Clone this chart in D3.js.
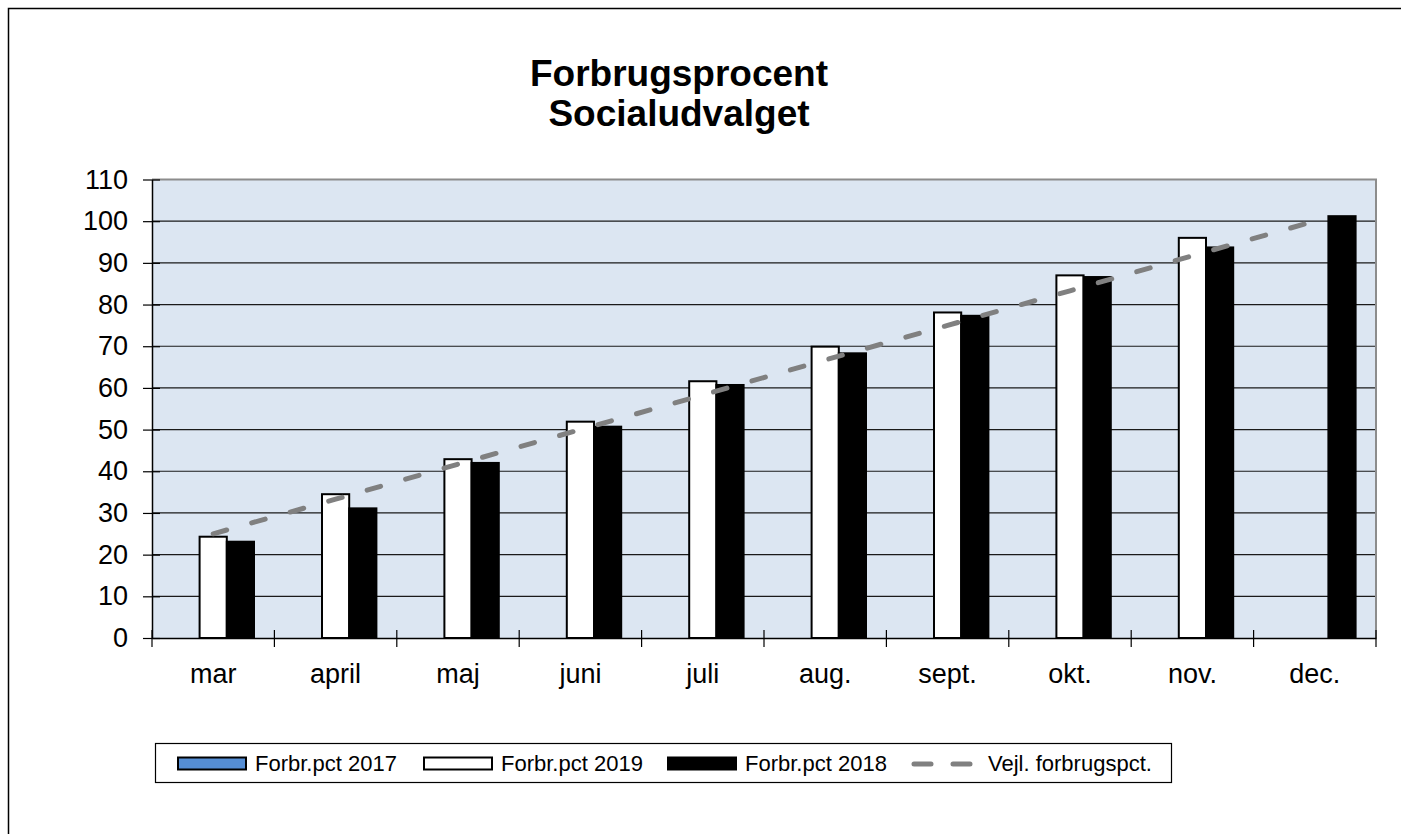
<!DOCTYPE html>
<head>
<meta charset="utf-8">
<title>Forbrugsprocent Socialudvalget</title>
<script src="https://d3js.org/d3.v7.min.js"></script>
<style>
  body { margin: 0; background: #fff; }
  text { font-family: "Liberation Sans", Arial, sans-serif; fill: #000; }
</style>
</head>
<body>
<div id="my_dataviz"></div>
<script>

// data
const months = ["mar", "april", "maj", "juni", "juli", "aug.", "sept.", "okt.", "nov.", "dec."];
const pct2017 = [null, null, null, null, null, null, null, null, null, null];
const pct2019 = [24.3, 34.5, 42.9, 51.9, 61.6, 69.9, 78.1, 87.0, 96.0, null];
const pct2018 = [23.1, 31.1, 42.0, 50.7, 60.7, 68.3, 77.3, 86.6, 93.7, 101.2];
const vejl = [25, 33.3, 41.7, 50, 58.3, 66.7, 75, 83.3, 91.7, 100];
const yTicks = [0, 10, 20, 30, 40, 50, 60, 70, 80, 90, 100, 110];

const seriesNames = ["Forbr.pct 2017", "Forbr.pct 2019", "Forbr.pct 2018"];
const seriesValues = [pct2017, pct2019, pct2018];
const seriesFill = ["#558ed5", "#ffffff", "#000000"];

var W = 1401, H = 834;
var plot = {left: 152, right: 1376, top: 179.5, bottom: 638};

var svg = d3.select("#my_dataviz")
  .append("svg")
    .attr("width", W)
    .attr("height", H);

// outer chart border
svg.append("rect")
  .attr("x", 8.5).attr("y", 8.5)
  .attr("width", W).attr("height", H)
  .attr("fill", "#fff")
  .attr("stroke", "#000")
  .attr("stroke-width", 1.5);

// title
svg.append("text")
  .attr("x", 679).attr("y", 86)
  .attr("text-anchor", "middle")
  .style("font-size", "37px").style("font-weight", "bold")
  .text("Forbrugsprocent");
svg.append("text")
  .attr("x", 679).attr("y", 126)
  .attr("text-anchor", "middle")
  .style("font-size", "37px").style("font-weight", "bold")
  .text("Socialudvalget");

// scales
var x0 = d3.scaleBand()
  .domain(months)
  .range([plot.left, plot.right]);

var x1 = d3.scaleBand()
  .domain(seriesNames)
  .range([x0.bandwidth() / 6, x0.bandwidth() * 5 / 6]);

var y = d3.scaleLinear()
  .domain([0, 110])
  .range([plot.bottom, plot.top]);

// plot area
svg.append("rect")
  .attr("x", plot.left).attr("y", plot.top)
  .attr("width", plot.right - plot.left)
  .attr("height", plot.bottom - plot.top)
  .attr("fill", "#dce6f2");

// gridlines
svg.append("g")
  .selectAll("line")
  .data(yTicks.filter(function(d) { return d > 0 && d < 110; }))
  .enter()
  .append("line")
    .attr("x1", plot.left).attr("x2", plot.right)
    .attr("y1", function(d) { return y(d); })
    .attr("y2", function(d) { return y(d); })
    .attr("stroke", "#1a1a1a")
    .attr("stroke-width", 1.2);

// top + right border (grey)
svg.append("path")
  .attr("d", "M" + plot.left + "," + plot.top + "H" + plot.right + "V" + plot.bottom)
  .attr("fill", "none")
  .attr("stroke", "#8c8c8c")
  .attr("stroke-width", 2);

// bars
seriesNames.forEach(function(name, si) {
  svg.append("g")
    .selectAll("rect")
    .data(seriesValues[si].map(function(v, i) { return {m: months[i], v: v}; })
      .filter(function(d) { return d.v != null; }))
    .enter()
    .append("rect")
      .attr("x", function(d) { return x0(d.m) + x1(name); })
      .attr("width", x1.bandwidth())
      .attr("y", function(d) { return y(d.v); })
      .attr("height", function(d) { return y(0) - y(d.v); })
      .attr("fill", seriesFill[si])
      .attr("stroke", "#000")
      .attr("stroke-width", 2);
});

// guide line
var line = d3.line()
  .x(function(d, i) { return x0(months[i]) + x0.bandwidth() / 2; })
  .y(function(d) { return y(d); });

svg.append("path")
  .datum(vejl)
  .attr("d", line)
  .attr("fill", "none")
  .attr("stroke", "#808080")
  .attr("stroke-width", 5)
  .attr("stroke-linecap", "round")
  .attr("stroke-dasharray", "14,26");

// Y axis
var yAxis = svg.append("g")
  .attr("transform", "translate(" + plot.left + ",0)")
  .call(d3.axisLeft(y).tickValues(yTicks).tickSize(0).tickPadding(24));
yAxis.select(".domain").attr("stroke", "#000").attr("stroke-width", 1.5);
yAxis.selectAll(".tick text").style("font-size", "27px").attr("font-family", null);
yAxis.selectAll(".tick").append("line")
  .attr("x1", -9).attr("x2", 8)
  .attr("stroke", "#000").attr("stroke-width", 1.2);

// X axis
var xAxis = svg.append("g")
  .attr("transform", "translate(0," + plot.bottom + ")")
  .call(d3.axisBottom(x0).tickSize(0).tickPadding(26));
xAxis.select(".domain").attr("stroke", "#000").attr("stroke-width", 1.5);
xAxis.selectAll(".tick text").style("font-size", "27px").attr("font-family", null);
xAxis.selectAll(".bound")
  .data(d3.range(months.length + 1))
  .enter()
  .append("line")
    .attr("class", "bound")
    .attr("x1", function(i) { return plot.left + i * x0.step(); })
    .attr("x2", function(i) { return plot.left + i * x0.step(); })
    .attr("y1", -8).attr("y2", 9)
    .attr("stroke", "#000").attr("stroke-width", 1.2);

// legend
var legend = svg.append("g");
legend.append("rect")
  .attr("x", 155.5).attr("y", 743.5)
  .attr("width", 1016).attr("height", 39)
  .attr("fill", "#fff")
  .attr("stroke", "#000")
  .attr("stroke-width", 1.2);

var legendX = [178, 424, 668];
seriesNames.forEach(function(name, si) {
  legend.append("rect")
    .attr("x", legendX[si]).attr("y", 757.5)
    .attr("width", 68).attr("height", 12)
    .attr("fill", seriesFill[si])
    .attr("stroke", "#000")
    .attr("stroke-width", 2);
  legend.append("text")
    .attr("x", legendX[si] + 77).attr("y", 771)
    .style("font-size", "22px")
    .text(name);
});
legend.append("line")
  .attr("x1", 914).attr("x2", 974)
  .attr("y1", 764).attr("y2", 764)
  .attr("stroke", "#808080")
  .attr("stroke-width", 5)
  .attr("stroke-linecap", "round")
  .attr("stroke-dasharray", "17,22");
legend.append("text")
  .attr("x", 988).attr("y", 771)
  .style("font-size", "22px")
  .text("Vejl. forbrugspct.");

</script>
</body>
</html>
